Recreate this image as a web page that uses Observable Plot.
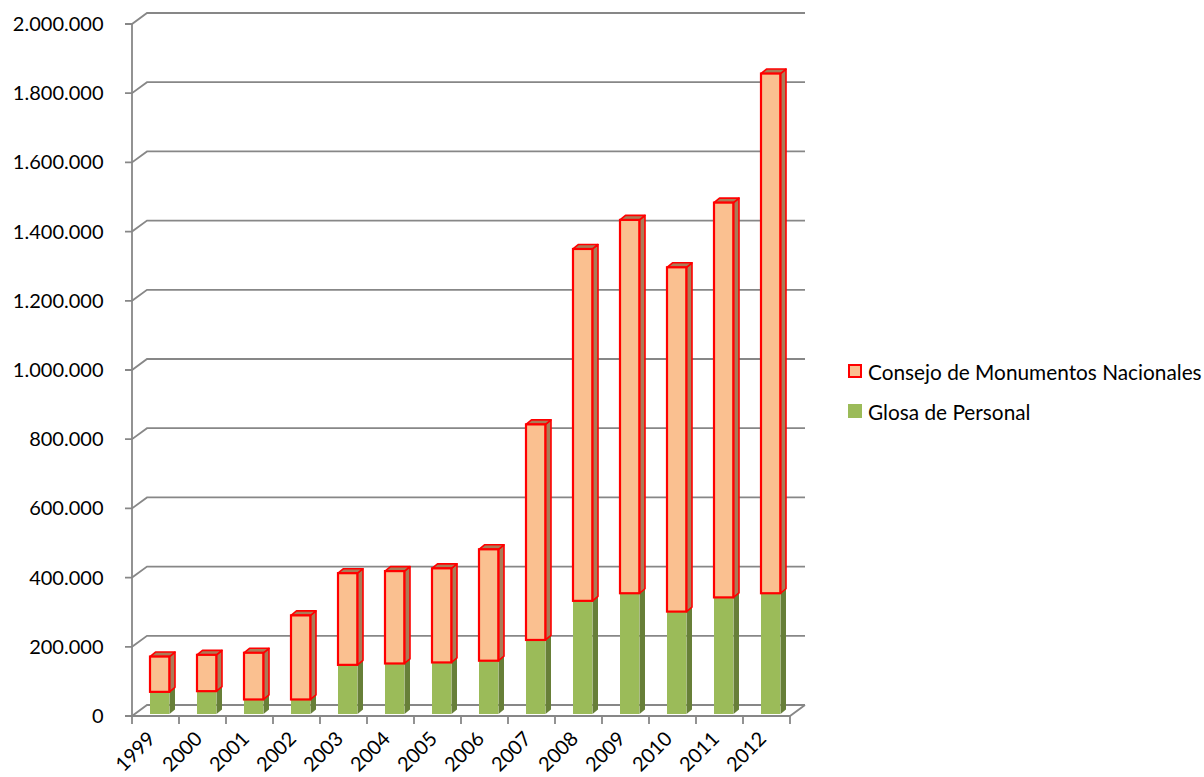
<!DOCTYPE html>
<html><head><meta charset="utf-8">
<script src="https://cdn.jsdelivr.net/npm/d3@7"></script>
<script src="https://cdn.jsdelivr.net/npm/@observablehq/plot@0.6"></script>
<style>
body{margin:0;background:#fff;}
#wrap{position:relative;width:1204px;height:777px;font-family:Lato,"Liberation Sans",sans-serif;}
#legend{position:absolute;left:848px;top:351px;font-size:20.8px;color:#000;}
#legend .item{display:flex;align-items:center;height:40px;white-space:nowrap;}
#legend .sw{display:inline-block;width:14px;height:14px;margin-right:6px;box-sizing:border-box;}
</style></head><body>
<div id="wrap"><div id="chart"></div>
<div id="legend">
  <div class="item"><span class="sw" style="background:#FAC090;border:2px solid #FF0000"></span>Consejo de Monumentos Nacionales</div>
  <div class="item"><span class="sw" style="background:#9BBB59"></span>Glosa de Personal</div>
</div></div>
<script>
const years = ["1999","2000","2001","2002","2003","2004","2005","2006","2007","2008","2009","2010","2011","2012"];
const glosa   = [64000, 66000, 42000, 42000, 142000, 146000, 149000, 154000, 214000, 327000, 349000, 296000, 337000, 349000];
const consejo = [102000, 105000, 135000, 243000, 265000, 267000, 272000, 322000, 623000, 1017000, 1079000, 995000, 1141000, 1502000];
const yTicks = [0, 200000, 400000, 600000, 800000, 1000000, 1200000, 1400000, 1600000, 1800000, 2000000];

const locale = d3.formatLocale({decimal: ",", thousands: ".", grouping: [3], currency: ["", ""]});
const fmt = locale.format(",d");

const DX = 15, DY = -11;      // wall depth
const BL = 18, BW = 19.5, BDY = -2; // bar front offset/width
const SX = 5.5, SY = -4.5;    // bar depth
const RED = "#FF0000";

const lo = years.map((_, i) => 0);
const mid = years.map((_, i) => glosa[i]);
const hi = years.map((_, i) => glosa[i] + consejo[i]);

function decor(index, {x, y}) {
  const step = x(years[1]) - x(years[0]);
  const x0 = x(years[0]), x1 = x(years[years.length - 1]) + step;
  const g = d3.create("svg:g").attr("fill", "none").attr("stroke", "#878787").attr("stroke-width", 1.8);
  for (const t of yTicks) {
    const yy = y(t);
    g.append("path").attr("d", `M${x0 - 7},${yy}H${x0}L${x0 + DX},${yy + DY}H${x1 + DX}`);
  }
  g.append("path").attr("d", `M${x0},${y(0)}V${y(yTicks[yTicks.length - 1])}`);
  g.append("path").attr("d", `M${x0},${y(0)}H${x1}L${x1 + DX},${y(0) + DY}`);
  for (let i = 0; i <= years.length; i++) {
    const xx = x0 + i * step;
    g.append("path").attr("d", `M${xx},${y(0)}v8`);
  }
  return g.node();
}

function sides(bottom, top, dark, stroke) {
  return (index, {x, y}) => {
    const g = d3.create("svg:g");
    years.forEach((yr, i) => {
      const left = x(yr) + BL, right = left + BW;
      const yt = y(top[i]) + BDY, yb = y(bottom[i]) + BDY;
      g.append("path")
        .attr("d", `M${right},${yb}L${right + SX},${yb + SY}L${right + SX},${yt + SY}L${right},${yt}Z`)
        .attr("fill", dark).attr("stroke", stroke).attr("stroke-width", 1.6).attr("stroke-linejoin", "round");
      g.append("path")
        .attr("d", `M${left},${yt}L${left + SX},${yt + SY}L${right + SX},${yt + SY}L${right},${yt}Z`)
        .attr("fill", dark).attr("stroke", stroke).attr("stroke-width", 1.6).attr("stroke-linejoin", "round");
    });
    return g.node();
  };
}

const chart = Plot.plot({
  width: 1204, height: 777,
  marginLeft: 130, marginRight: 413, marginTop: 24, marginBottom: 61,
  x: {domain: years, padding: 0},
  y: {domain: [0, 2000000]},
  style: {fontFamily: "Lato, 'Liberation Sans', sans-serif", fontSize: "20px", color: "#000", background: "#fff"},
  marks: [
    decor,
    sides(lo, mid, "#677F38", "none"),
    Plot.barY(years, {x: d => d, y1: (d, i) => lo[i], y2: (d, i) => mid[i], fill: "#9BBB59",
      insetLeft: BL, insetRight: 47.2 - BL - BW, dy: BDY}),
    sides(mid, hi, "#A97C57", RED),
    Plot.barY(years, {x: d => d, y1: (d, i) => mid[i], y2: (d, i) => hi[i], fill: "#FAC090",
      stroke: RED, strokeWidth: 2.2, insetLeft: BL, insetRight: 47.2 - BL - BW, dy: BDY}),
    Plot.axisY({ticks: yTicks, tickFormat: fmt, tickSize: 0, tickPadding: 27, fontSize: 20}),
    Plot.axisX({tickSize: 0, tickRotate: -45, tickPadding: 19, dx: -4, fontSize: 20})
  ]
});
document.getElementById("chart").appendChild(chart);
</script>
</body></html>
